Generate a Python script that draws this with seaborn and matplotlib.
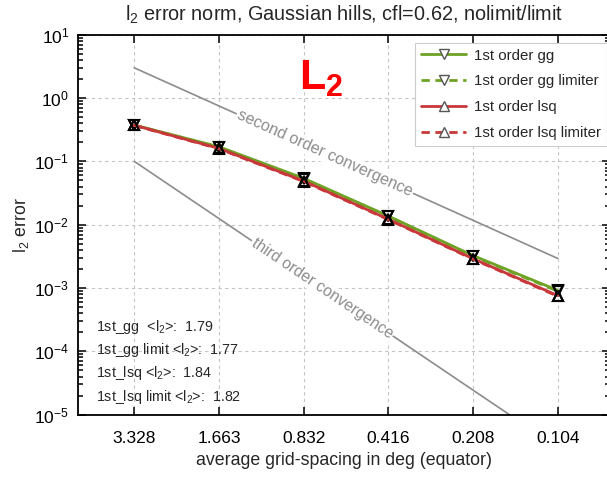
import numpy as np
import pandas as pd
import matplotlib
matplotlib.use("Agg")
import matplotlib.pyplot as plt
import seaborn as sns

# ---- data ----
spacing_labels = ["3.328", "1.663", "0.832", "0.416", "0.208", "0.104"]
gg = [0.375, 0.170, 0.054, 0.0137, 0.00325, 0.00092]
gg_lim = [0.372, 0.167, 0.053, 0.0135, 0.00318, 0.00089]
lsq = [0.372, 0.160, 0.049, 0.0122, 0.00290, 0.00076]
lsq_lim = [0.370, 0.158, 0.048, 0.0120, 0.00285, 0.00074]
series_names = ["1st order gg", "1st order gg limiter", "1st order lsq", "1st order lsq limiter"]
second_order_ref = [3.0, 0.75, 0.1875, 0.046875, 0.01171875, 0.0029296875]
third_order_ref = [0.1, 0.0125, 0.0015625, 0.0001953125, 2.44140625e-05, 3.0517578125e-06]
rate_labels = ["1st_gg  <l$_2$>:  1.79", "1st_gg limit <l$_2$>:  1.77",
               "1st_lsq <l$_2$>:  1.84", "1st_lsq limit <l$_2$>:  1.82"]

sns.set_theme(style="ticks")
plt.rcParams['font.family'] = ['Liberation Sans', 'DejaVu Sans']
plt.rcParams['mathtext.fontset'] = 'custom'
plt.rcParams['mathtext.rm'] = 'Liberation Sans'
plt.rcParams['mathtext.it'] = 'Liberation Sans'
plt.rcParams['mathtext.bf'] = 'Liberation Sans:bold'

idx = list(range(len(spacing_labels)))
rows = []
for name, vals in zip(series_names, [gg, gg_lim, lsq, lsq_lim]):
    for i, v in zip(idx, vals):
        rows.append({"x": i, "err": v, "series": name})
df = pd.DataFrame(rows)

green = "#6ea224"
red = "#c8383a"
palette = {series_names[0]: green, series_names[1]: green,
           series_names[2]: red, series_names[3]: red}
dashes = {series_names[0]: "", series_names[1]: (3, 2),
          series_names[2]: "", series_names[3]: (3, 2)}
markers = {series_names[0]: "v", series_names[1]: "v",
           series_names[2]: "^", series_names[3]: "^"}

fig = plt.figure(figsize=(6.07, 4.84), dpi=100)
ax = fig.add_axes([0.1277, 0.1432, 1.005 - 0.1277, 0.9283 - 0.1432])

# reference lines
ax.plot(idx, second_order_ref, color="#8c8c8c", lw=1.2, zorder=2)
ax.plot(idx, third_order_ref, color="#8c8c8c", lw=1.2, zorder=2)

sns.lineplot(data=df, x="x", y="err", hue="series", style="series",
             palette=palette, dashes=dashes, markers=markers,
             hue_order=series_names, style_order=series_names,
             lw=2, markersize=7.5, markerfacecolor="none",
             markeredgecolor="black", markeredgewidth=1.5, ax=ax, zorder=3)

ax.set_yscale("log")
ax.set_ylim(1e-5, 10)
ax.set_xlim(-0.67, 5.617)
ax.set_xticks(idx)
ax.set_xticklabels(spacing_labels)
ax.set_yticks([10.0 ** k for k in range(-5, 2)])

ax.grid(True, which="major", color="#c4c4c4", ls=(0, (3, 3)), lw=0.8)
ax.tick_params(which="both", direction="in", top=True, right=True, colors="black",
               labelsize=12.5, width=1.1)
ax.tick_params(which="major", length=6)
ax.tick_params(which="minor", length=3.5)
ax.tick_params(axis="x", pad=12)
ax.tick_params(axis="y", pad=6)
for s in ax.spines.values():
    s.set_linewidth(1.3)
    s.set_color("black")

ax.set_xlabel("average grid-spacing in deg (equator)", fontsize=12.8, labelpad=4)
ax.set_ylabel("l$_2$ error", fontsize=12.8, labelpad=2)
ax.set_title("l$_2$ error norm, Gaussian hills, cfl=0.62, nolimit/limit", fontsize=14.3, pad=10)

# convergence line labels
ax.text(2.25, 3.0 * 4 ** -2.25, "second order convergence", rotation=-24.2,
        rotation_mode="anchor", ha="center", va="center", color="#8c8c8c",
        fontsize=11.6, bbox=dict(facecolor="white", edgecolor="none", pad=1), zorder=2.5)
ax.text(2.22, 0.1 * 8 ** -2.22, "third order convergence", rotation=-34,
        rotation_mode="anchor", ha="center", va="center", color="#8c8c8c",
        fontsize=11.3, bbox=dict(facecolor="white", edgecolor="none", pad=1), zorder=2.5)

# big L2
fig.text(299 / 607, 1 - 89 / 484, "L", color="#ff0000", fontsize=31,
         fontweight="bold", ha="left", va="baseline")
fig.text(326 / 607, 1 - 96 / 484, "2", color="#ff0000", fontsize=22,
         fontweight="bold", ha="left", va="baseline")

# rate labels
for k, t in enumerate(rate_labels):
    fig.text(96 / 607, 1 - (331 + 23.2 * k) / 484, t, fontsize=10.3, ha="left", va="baseline")

handles, labels = ax.get_legend_handles_labels()
for h in handles:
    h.set_markerfacecolor("white")
    h.set_markeredgecolor("#555555")
    h.set_markeredgewidth(1.0)
leg = ax.legend(handles, labels, loc="upper left",
                bbox_to_anchor=(415 / 607, 1 - 42.7 / 484),
                bbox_transform=fig.transFigure, borderaxespad=0,
                fontsize=10.8, handlelength=3.0, labelspacing=0.78,
                handletextpad=0.5,
                fancybox=False, framealpha=1, edgecolor="#cccccc")
leg.get_frame().set_linewidth(0.8)

fig.savefig("out.png", dpi=100)
